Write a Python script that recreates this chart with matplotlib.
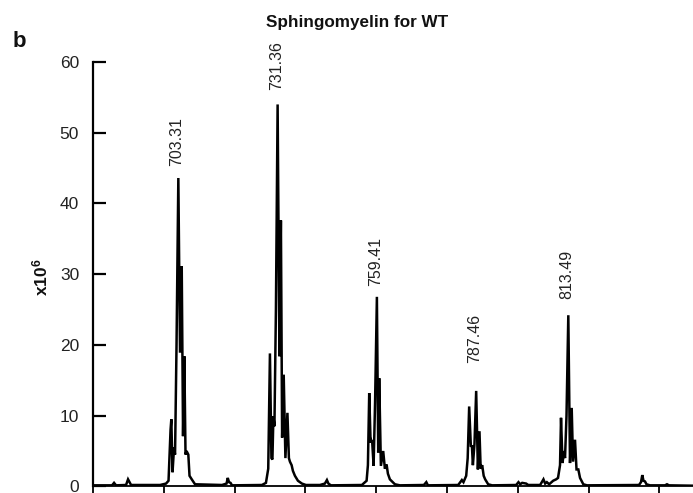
import numpy as np
import matplotlib
matplotlib.use("Agg")
import matplotlib.pyplot as plt

plt.rcParams['font.family'] = ['Liberation Sans', 'DejaVu Sans']
plt.rcParams['mathtext.fontset'] = 'custom'
plt.rcParams['mathtext.rm'] = 'Liberation Sans'
plt.rcParams['mathtext.bf'] = 'Liberation Sans:bold'

# ---- data (m/z, intensity x10^6) ----
mz = [679.21, 684.58, 685.15, 685.71, 688.54, 689.10, 689.52, 689.95,
      698.14, 699.84, 700.54, 701.11, 701.33, 701.67, 702.10, 702.38, 702.80,
      703.31, 703.79, 704.27, 704.64, 705.00, 705.34, 705.63, 706.13, 706.47,
      707.10, 708.03,
      715.65, 716.93, 717.27, 717.63, 718.06, 718.48,
      726.93, 728.06, 728.71, 729.19, 729.61, 729.89, 730.17, 730.46, 730.88,
      731.36, 731.87, 732.29, 732.63, 733.08, 733.56, 734.13, 734.55, 734.84,
      735.32, 735.68, 736.25, 737.10, 738.22, 739.35,
      743.31, 744.72, 745.29, 745.71, 746.42,
      755.17, 756.50, 756.87, 757.24, 757.63, 757.86, 758.08, 758.48, 758.90,
      759.41, 759.78, 760.06, 760.54, 761.19, 761.67, 762.15, 762.52, 763.08,
      764.50, 765.91,
      772.69, 773.37, 773.82,
      782.38, 783.42, 783.87, 784.64, 785.06, 785.48, 785.96, 786.25, 786.53,
      786.98, 787.46, 787.94, 788.39, 788.73, 789.16, 789.58, 790.00, 790.85,
      791.98,
      798.76, 799.41, 799.89, 800.46, 801.59, 802.15, 805.54, 806.47, 806.95,
      807.43, 808.08, 809.21, 810.06,
      810.58, 811.15, 811.43, 811.85, 812.28, 812.56, 812.98, 813.49, 813.97,
      814.45, 814.82, 815.38, 815.81, 816.32, 816.80, 817.73, 818.77,
      833.46, 834.03, 834.39, 834.73, 835.16, 835.58, 836.57, 840.81, 841.37,
      841.94, 848.72]
intensity = [0.15, 0.15, 0.5, 0.15, 0.2, 1.0, 0.6, 0.2,
             0.2, 0.4, 0.8, 8.0, 9.5, 2.0, 5.5, 4.5, 20.0,
             43.6, 18.9, 31.1, 7.1, 18.4, 4.5, 5.0, 4.5, 1.5,
             1.0, 0.3,
             0.2, 0.4, 1.2, 0.6, 0.5, 0.15,
             0.2, 0.5, 2.5, 18.8, 4.0, 3.8, 9.9, 8.5, 25.0,
             54.0, 18.4, 37.6, 6.9, 15.8, 4.0, 10.4, 4.0, 3.5,
             3.0, 2.2, 1.5, 0.8, 0.4, 0.2,
             0.2, 0.4, 0.9, 0.4, 0.15,
             0.2, 0.8, 3.0, 13.2, 6.2, 6.5, 6.3, 2.9, 12.0,
             26.8, 4.8, 15.3, 2.9, 5.0, 2.5, 3.1, 1.8, 1.0,
             0.3, 0.15,
             0.2, 0.6, 0.15,
             0.2, 0.9, 0.6, 1.5, 4.0, 11.3, 5.6, 5.8, 3.0,
             6.0, 13.5, 2.4, 7.8, 2.5, 3.0, 1.5, 1.0, 0.3,
             0.15,
             0.2, 0.6, 0.3, 0.5, 0.4, 0.2, 0.2, 1.0, 0.4,
             0.6, 0.3, 0.8, 1.0,
             1.2, 3.0, 9.7, 3.3, 5.0, 4.0, 10.0, 24.2, 3.3,
             11.1, 3.5, 6.6, 2.4, 2.4, 1.2, 0.3, 0.15,
             0.2, 0.6, 1.6, 0.8, 0.7, 0.3, 0.15, 0.15, 0.3,
             0.15, 0.1]

peak_labels = ["703.31", "731.36", "759.41", "787.46", "813.49"]
peak_mz = [703.31, 731.36, 759.41, 787.46, 813.49]

y_ticks = [0, 10, 20, 30, 40, 50, 60]
x_ticks = [679.2, 699.2, 719.2, 739.2, 759.2, 779.2, 799.2, 819.2, 839.2]

# ---- layout / style ----
label_offsets_pt = [9.0, 10.5, 8.0, 20.0, 11.5]
W, H = 693, 493

fig = plt.figure(figsize=(W / 100, H / 100), dpi=100)
ax = fig.add_axes([93 / W, (H - 486.4) / H, 1 - 93 / W, (486.4 - 62) / H])

ax.plot(mz, intensity, color='black', lw=1.8, solid_joinstyle='miter')

ax.set_xlim(679.2, 848.72)
ax.set_ylim(0, 60)
ax.spines['top'].set_visible(False)
ax.spines['right'].set_visible(False)
ax.spines['left'].set_linewidth(1.6)
ax.spines['bottom'].set_linewidth(1.3)

ax.set_yticks(y_ticks)
ax.set_yticklabels([str(t) for t in y_ticks])
ax.tick_params(axis='y', direction='in', length=9, width=1.6, pad=10,
               labelsize=12.5, labelcolor='#222222')
ax.set_xticks(x_ticks)
ax.set_xticklabels([''] * len(x_ticks))
ax.tick_params(axis='x', direction='out', length=8, width=1.3)

for lab, m, off in zip(peak_labels, peak_mz, label_offsets_pt):
    top = np.interp(m, mz, intensity)
    ax.annotate(lab, xy=(m, top), xytext=(-1, off), textcoords='offset points',
                rotation=90, ha='center', va='bottom', fontsize=11.5,
                color='#222222', annotation_clip=False)

fig.text(40 / W, (H - 277) / H, r'$\mathbf{x10^6}$', rotation=90,
         ha='center', va='center', fontsize=12.5, color='#111111')
fig.text(357.5 / W, 1 - 27 / H, 'Sphingomyelin for WT', ha='center',
         va='baseline', fontsize=12.3, fontweight='bold', color='#111111')
fig.text(13 / W, 1 - 47 / H, 'b', ha='left', va='baseline', fontsize=16,
         fontweight='bold', color='#111111')

fig.savefig('out.png', dpi=100)
